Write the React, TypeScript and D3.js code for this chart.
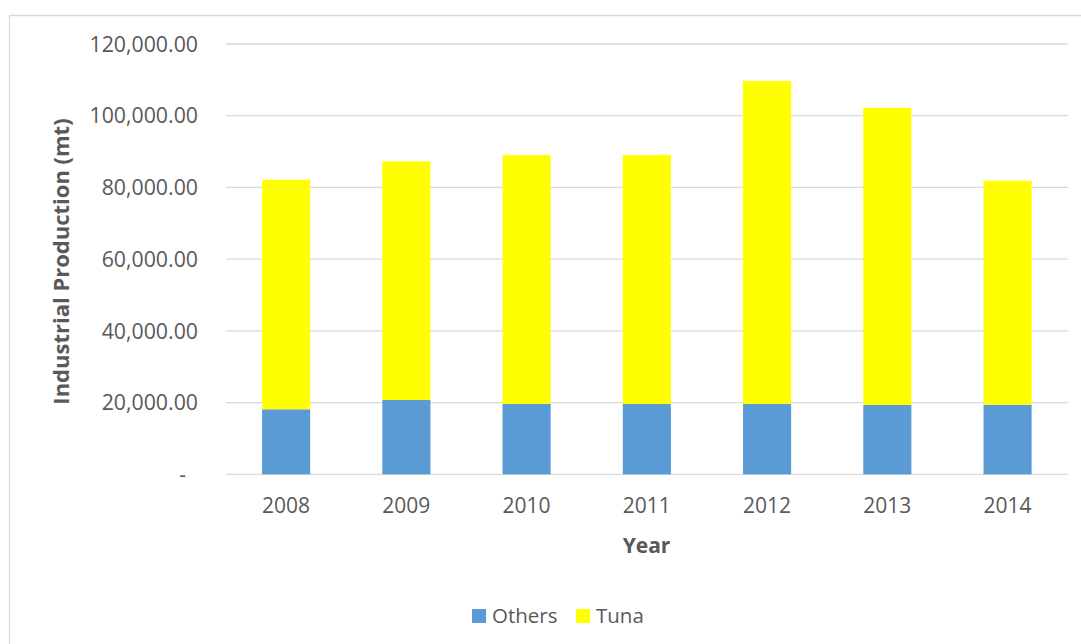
import React from "react";
import * as d3 from "d3";

const years = ["2008", "2009", "2010", "2011", "2012", "2013", "2014"];
const others = [18130, 20720, 19600, 19600, 19600, 19330, 19410];
const tuna = [64030, 66570, 69440, 69440, 90080, 82900, 62470];
const yTicks = [0, 20000, 40000, 60000, 80000, 100000, 120000];
const seriesNames = ["Others", "Tuna"];
const seriesColors = ["#5b9bd5", "#ffff00"];

const W = 1081;
const H = 644;
const left = 226;
const right = 1067.7;
const top = 44;
const bottom = 474.3;
const FONT = "'Open Sans', 'Liberation Sans', sans-serif";
const TXT = "#595959";

export default function App() {
  const x = d3
    .scaleBand<string>()
    .domain(years)
    .range([left, right])
    .paddingInner(0.6)
    .paddingOuter(0.3);
  const y = d3.scaleLinear().domain([0, 120000]).range([bottom, top]);

  const rows = years.map((yr, i) => ({ year: yr, Others: others[i], Tuna: tuna[i] }));
  const stack = d3.stack<any>().keys(seriesNames)(rows);

  const fmt = (v: number) => (v === 0 ? "-" : d3.format(",.2f")(v));

  return (
    <svg
      width={W}
      height={H}
      style={{ position: "absolute", left: 0, top: 0, background: "#fff" }}
      fontFamily={FONT}
    >
      <rect x={0} y={0} width={W} height={H} fill="#fff" />
      <path d={`M9.5,${H + 2}V15.5H${W + 2}`} fill="none" stroke="#d9d9d9" strokeWidth={1.3} />
      {yTicks.map((t) => (
        <g key={t}>
          <line x1={left} x2={right} y1={y(t)} y2={y(t)} stroke="#d9d9d9" strokeWidth={1.3} />
          <text
            x={t === 0 ? 186 : 198}
            y={y(t)}
            dy="0.36em"
            textAnchor="end"
            fontSize={21.3}
            fill={TXT}
          >
            {fmt(t)}
          </text>
        </g>
      ))}
      {stack.map((s, si) => (
        <g key={seriesNames[si]} fill={seriesColors[si]}>
          {s.map((d: any, i: number) => (
            <rect
              key={years[i]}
              x={x(years[i])}
              width={x.bandwidth()}
              y={y(d[1])}
              height={y(d[0]) - y(d[1])}
            />
          ))}
        </g>
      ))}
      {years.map((yr) => (
        <text
          key={yr}
          x={(x(yr) as number) + x.bandwidth() / 2}
          y={513}
          textAnchor="middle"
          fontSize={21}
          fill={TXT}
        >
          {yr}
        </text>
      ))}
      <text x={646.5} y={553} textAnchor="middle" fontSize={21} fontWeight="bold" fill={TXT}>
        Year
      </text>
      <text
        transform={`translate(69,${261.5}) rotate(-90)`}
        textAnchor="middle"
        fontSize={22}
        fontWeight="bold"
        fill={TXT}
      >
        Industrial Production (mt)
      </text>
      <g>
        <rect x={472} y={609} width={14} height={14} fill={seriesColors[0]} />
        <text x={492} y={623} fontSize={20.5} fill={TXT}>
          {seriesNames[0]}
        </text>
        <rect x={576} y={609} width={14} height={14} fill={seriesColors[1]} />
        <text x={596} y={623} fontSize={20.5} fill={TXT}>
          {seriesNames[1]}
        </text>
      </g>
    </svg>
  );
}
